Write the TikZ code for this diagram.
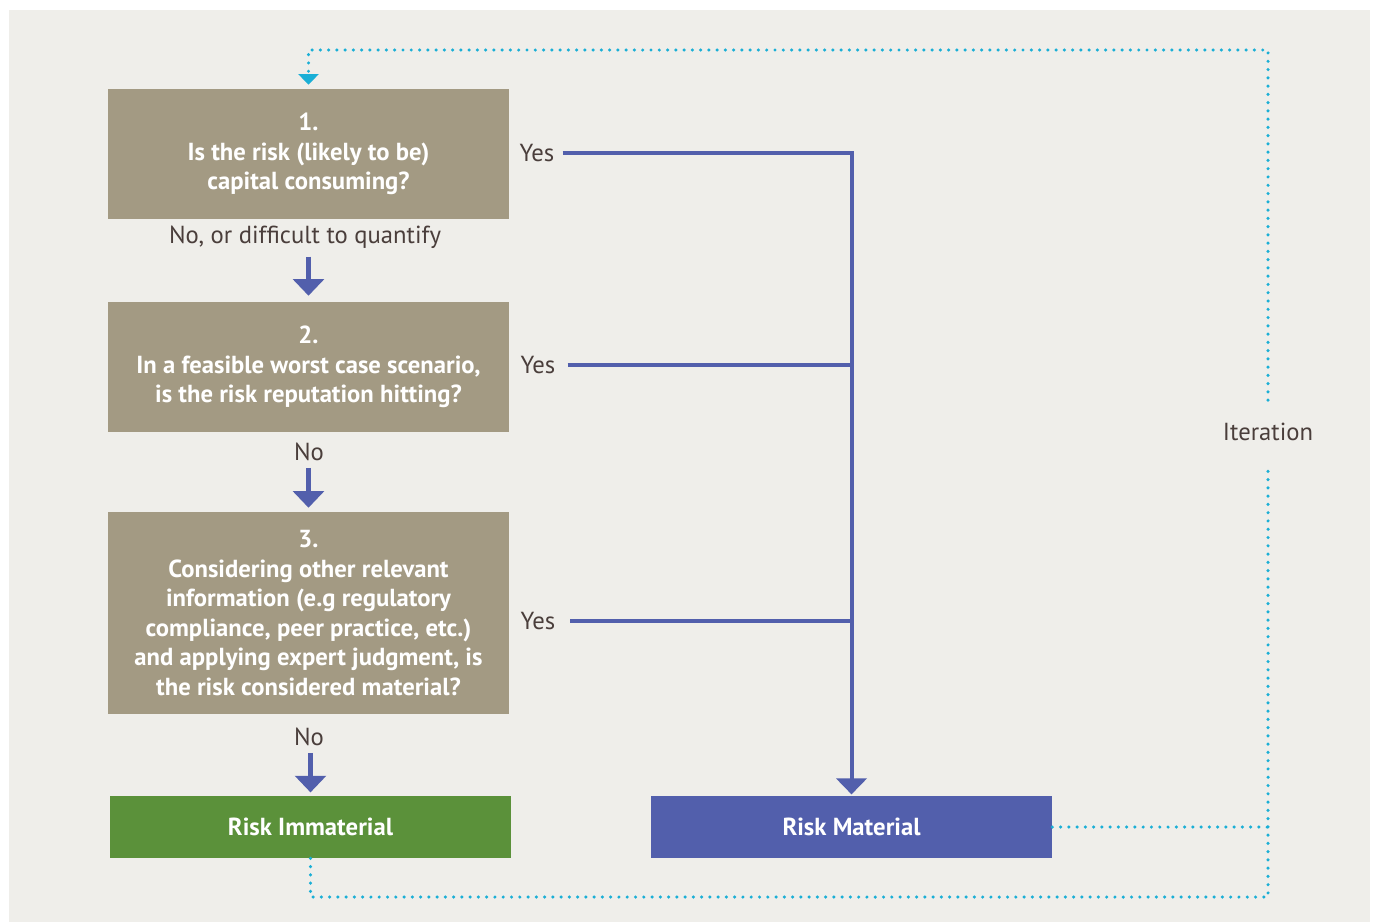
\documentclass[tikz,border=0pt]{standalone}
\usepackage{fontspec}
\setmainfont{PT Sans}
\usetikzlibrary{arrows.meta, positioning}
\definecolor{bgcol}{HTML}{EFEEEA}
\definecolor{qcol}{HTML}{A39A83}
\definecolor{greencol}{HTML}{5B913A}
\definecolor{bluecol}{HTML}{525FAC}
\definecolor{dotcol}{HTML}{1AAFD6}
\definecolor{txtcol}{HTML}{4A3E3B}
\tikzset{
  question/.style={fill=qcol, text=white, font=\bfseries\fontsize{18.5}{22.2}\selectfont, align=center, minimum width=300.75pt, inner sep=0pt},
  result/.style={text=white, font=\bfseries\fontsize{18.5}{20}\selectfont, minimum width=300.75pt, minimum height=46.5pt, inner sep=0pt},
  answer/.style={text=txtcol, font=\fontsize{18.5}{20}\selectfont, inner sep=1pt},
  yesline/.style={draw=bluecol, line width=3pt},
  noarrow/.style={draw=bluecol, line width=3.75pt, -{Triangle[width=23pt,length=12.5pt]}},
  iterline/.style={draw=dotcol, line width=2.6pt, line cap=round, dash pattern=on 0pt off 6.2pt},
}
\begin{document}
\begin{tikzpicture}[x=0.75pt, y=-0.75pt]
\useasboundingbox (0,0) rectangle (1376,922);
\fill[bgcol] (9,10) rectangle (1370,922);

\node[question, minimum height=97.5pt] (q1) at (308.5,154) {1.\\Is the risk (likely to be)\\capital consuming?};
\node[answer] (no1) at (305,237) {No, or difficult to quantify};
\node[question, minimum height=97.5pt] (q2) at (308.5,367) {2.\\In a feasible worst case scenario,\\is the risk reputation hitting?};
\node[answer] (no2) at (309,452) {No};
\node[question, minimum height=151.5pt] (q3) at (308.5,613) {3.\\Considering other relevant\\information (e.g regulatory\\compliance, peer practice, etc.)\\and applying expert judgment, is\\the risk considered material?};
\node[answer] (no3) at (309,737) {No};
\node[result, fill=greencol] (immat) at (310.5,827) {Risk Immaterial};
\node[result, fill=bluecol] (mat) at (851.5,827) {Risk Material};

\node[answer] (yes1) at (537,153) {Yes};
\node[answer] (yes2) at (538,365) {Yes};
\node[answer] (yes3) at (538,621) {Yes};
\node[answer, inner ysep=17pt] (iter) at (1268,432) {Iteration};
\coordinate (loopbr) at (1268,897);
\coordinate (looptr) at (1268,50);

\draw[noarrow] ([yshift=-5pt]no1.south -| q2.north) -- ([yshift=4.5pt]q2.north);
\draw[noarrow] ([yshift=-4pt]no2.south -| q3.north) -- ([yshift=3pt]q3.north);
\draw[noarrow] ([yshift=-4pt]no3.south -| immat.north) -- ([yshift=2.5pt]immat.north);

\draw[yesline, -{Triangle[width=22.5pt,length=12pt]}] ([xshift=5pt]yes1.east) -| ([yshift=1pt]mat.north);
\draw[yesline] ([xshift=8pt]yes2.east) -- (yes2 -| mat);
\draw[yesline] ([xshift=10pt]yes3.east) -- (yes3 -| mat);

\draw[iterline] (immat.south) |- (loopbr) -- (iter.south);
\draw[iterline] (mat.east) -- (mat.east -| loopbr);
\draw[iterline, -{Triangle[width=15pt,length=8pt]}] (iter.north) -- (looptr) -| ([yshift=3pt]q1.north);
\end{tikzpicture}
\end{document}
